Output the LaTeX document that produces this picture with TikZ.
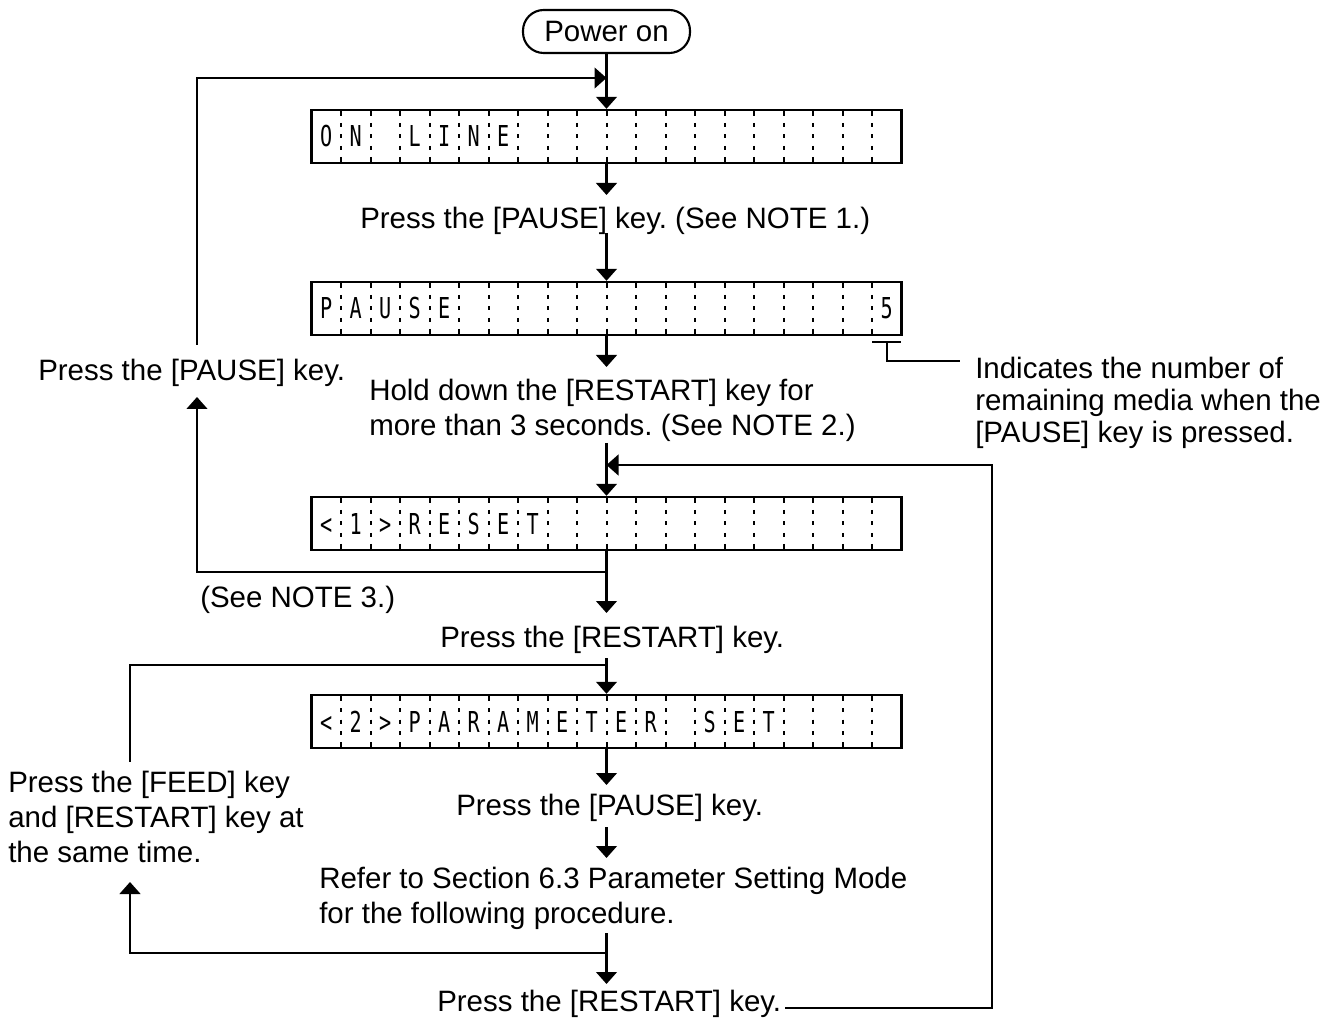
\documentclass[tikz,border=0pt]{standalone}
\usepackage{fontspec}
\usepackage{graphicx}
\setmainfont{Liberation Sans}
\newfontfamily\lcdfam{DejaVu Sans Mono}
\usetikzlibrary{arrows.meta}
\frenchspacing
\newcommand\mylbl{\fontsize{22.1pt}{26pt}\selectfont}
\newcommand\mylcd{\lcdfam\fontsize{21.6pt}{24pt}\selectfont}
\tikzset{
  ln/.style={line width=1.8pt},
  arr/.style={line width=1.8pt,-{Triangle[length=9pt,width=15.5pt]}},
  lcdbox/.style={draw,line width=1.8pt,minimum width=442.5pt,minimum height=39.75pt,inner sep=0pt},
  pill/.style={draw,line width=1.6pt,rounded corners=15.5pt,minimum width=125.25pt,minimum height=32.25pt,inner sep=0pt,font=\mylbl},
  lbl/.style={inner sep=0pt,anchor=base west,font=\mylbl},
  lcdch/.style={inner sep=0pt,anchor=base,font=\mylcd},
  divtick/.style={line width=1.5pt}
}
\newcommand\lcdrow[3]{%
  \node[lcdbox] (#1) at (606.5,#2+26.5) {};
  \foreach \k in {1,...,19}{
    \pgfmathsetmacro\xx{311.5+29.5*\k}
    \foreach \a/\b in {0/6,13/17,24.5/28.5,36/40,47/53}
      \draw[divtick] (\xx,#2+\a) -- (\xx,#2+\b);
  }
  \foreach \lc [count=\k] in {#3}{
    \pgfmathsetmacro\xc{311.5+29.5*\k-14.75}
    \node[lcdch] (#1-c\k) at (\xc,#2+37) {\scalebox{0.7}[1]{\lc}};
  }
}
\begin{document}
\begin{tikzpicture}[x=0.75pt,y=-0.75pt]
\useasboundingbox (0,0) rectangle (1335,1019);

% start
\node[pill] (power) at (606.5,31.5) {Power on};

% displays
\lcdrow{lcdA}{110}{O,N,{},L,I,N,E}
\lcdrow{lcdB}{282}{P,A,U,S,E,{},{},{},{},{},{},{},{},{},{},{},{},{},{},5}
\lcdrow{lcdC}{497}{<,1,>,R,E,S,E,T}
\lcdrow{lcdD}{695}{<,2,>,P,A,R,A,M,E,T,E,R,{},S,E,T}

% texts
\node[lbl] (tPause1) at (360,228.5) {Press the [PAUSE] key. (See NOTE 1.)};
\node[lbl] (tInd1) at (975,378.5) {Indicates the number of};
\node[lbl] (tInd2) at (975,410.5) {remaining media when the};
\node[lbl] (tInd3) at (975,442.5) {[PAUSE] key is pressed.};
\node[lbl] (tLeftPause) at (38,380.5) {Press the [PAUSE] key.};
\node[lbl] (tHold1) at (369,400.5) {Hold down the [RESTART] key for};
\node[lbl] (tHold2) at (369,435.5) {more than 3 seconds. (See NOTE 2.)};
\node[lbl] (tNote3) at (200,607) {(See NOTE 3.)};
\node[lbl] (tRestart1) at (440,647) {Press the [RESTART] key.};
\node[lbl] (tFeed1) at (8,792.5) {Press the [FEED] key};
\node[lbl] (tFeed2) at (8,827.5) {and [RESTART] key at};
\node[lbl] (tFeed3) at (8,862.5) {the same time.};
\node[lbl] (tPause2) at (456,815.5) {Press the [PAUSE] key.};
\node[lbl] (tRefer1) at (319,888.5) {Refer to Section 6.3 Parameter Setting Mode};
\node[lbl] (tRefer2) at (319,923.5) {for the following procedure.};
\node[lbl] (tRestart2) at (437,1011) {Press the [RESTART] key.};

% connector end points
\coordinate (jTop) at (606.5,78);
\coordinate (lpTop) at (197,345);
\coordinate (lpBot) at (197,397);
\coordinate (tip1) at (606.5,195);
\coordinate (s1) at (606.5,233);
\coordinate (tip2) at (606.5,367);
\coordinate (s2) at (606.5,443);
\coordinate (jRight) at (606.5,465);
\coordinate (rTop) at (992,465);
\coordinate (rStart) at (785,1008);
\coordinate (tip3) at (606.5,613);
\coordinate (b1) at (606.5,572);
\coordinate (s3) at (606.5,658);
\coordinate (b2) at (606.5,665);
\coordinate (fTop) at (130,762);
\coordinate (tip4) at (606.5,785);
\coordinate (s4) at (606.5,827);
\coordinate (tip5) at (606.5,858);
\coordinate (s5) at (606.5,933);
\coordinate (b3) at (606.5,953);
\coordinate (fBot) at (130,882);
\coordinate (tip6) at (606.5,984);
\coordinate (br1) at (872,342);
\coordinate (br2) at (901,342);
\coordinate (br3) at (887,342);
\coordinate (br4) at (960,361);

% connectors
\draw[arr] (power.south) -- (lcdA.north);
\draw[arr] (lpTop) |- (jTop);
\draw[arr] (lcdA.south) -- (tip1);
\draw[arr] (s1) -- (lcdB.north);
\draw[arr] (lcdB.south) -- (tip2);
\draw[ln] (br1) -- (br2);
\draw[ln] (br3) |- (br4);
\draw[arr] (s2) -- (lcdC.north);
\draw[arr] (lcdC.south) -- (tip3);
\draw[arr] (b1) -| (lpBot);
\draw[arr] (s3) -- (lcdD.north);
\draw[ln] (b2) -| (fTop);
\draw[arr] (lcdD.south) -- (tip4);
\draw[arr] (s4) -- (tip5);
\draw[arr] (s5) -- (tip6);
\draw[arr] (b3) -| (fBot);
\draw[arr] (rStart) -| (rTop) -- (jRight);
\end{tikzpicture}
\end{document}
